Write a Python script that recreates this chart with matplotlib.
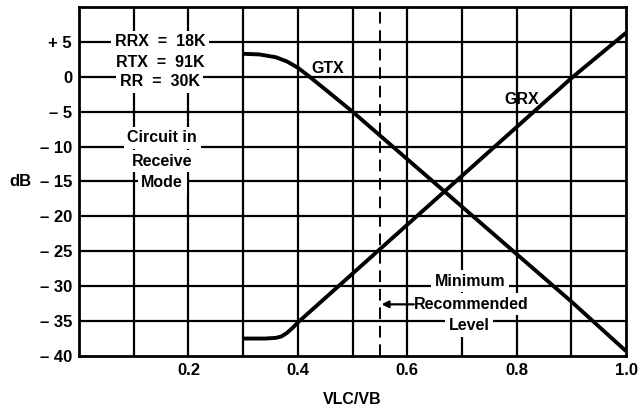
import matplotlib.pyplot as plt
import numpy as np

plt.rcParams['font.family'] = ['Liberation Sans', 'DejaVu Sans']

# GTX curve (dB vs VLC/VB)
gtx_x = [0.30, 0.33, 0.36, 0.38, 0.40, 0.42, 0.45, 0.50, 0.60, 0.70, 0.80, 0.90, 1.00]
gtx_y = [3.3, 3.2, 2.8, 2.2, 1.3, 0.1, -1.8, -5.0, -11.8, -18.6, -25.4, -32.2, -39.3]

# GRX curve
grx_x = [0.30, 0.34, 0.36, 0.37, 0.38, 0.39, 0.40, 0.50, 0.60, 0.70, 0.80, 0.90, 1.00]
grx_y = [-37.5, -37.5, -37.4, -37.2, -36.7, -36.0, -35.2, -28.2, -21.2, -14.2, -7.2, -0.2, 6.3]

x_ticks = [0.2, 0.4, 0.6, 0.8, 1.0]
x_ticklabels = ['0.2', '0.4', '0.6', '0.8', '1.0']
y_ticks = [5, 0, -5, -10, -15, -20, -25, -30, -35, -40]
y_ticklabels = ['+ 5', '0', '\u2013 5', '\u2013 10', '\u2013 15', '\u2013 20',
                '\u2013 25', '\u2013 30', '\u2013 35', '\u2013 40']

min_level = 0.55

fig = plt.figure(figsize=(6.43, 4.09), dpi=100)
ax = fig.add_axes([0.1229, 0.1296, 0.8507, 0.8533])

# grid
for gx in np.arange(0.1, 1.0, 0.1):
    ax.axvline(gx, color='black', lw=1.6, zorder=1)
for gy in range(-35, 10, 5):
    ax.axhline(gy, color='black', lw=1.6, zorder=1)

ax.axvline(min_level, color='black', lw=1.4, ls=(0, (6, 3.5)), zorder=2)

ax.plot(gtx_x, gtx_y, color='black', lw=2.8, zorder=3, solid_capstyle='butt')
ax.plot(grx_x, grx_y, color='black', lw=2.8, zorder=3, solid_capstyle='butt')

ax.set_xlim(0, 1.0)
ax.set_ylim(-40, 10)
ax.set_xticks(x_ticks)
ax.set_xticklabels(x_ticklabels)
ax.set_yticks(y_ticks)
ax.set_yticklabels(y_ticklabels)
ax.tick_params(length=0, labelsize=12, pad=5)
for lab in ax.get_xticklabels() + ax.get_yticklabels():
    lab.set_fontweight('bold')
for s in ax.spines.values():
    s.set_linewidth(2)

ax.set_xlabel('VLC/VB', fontsize=11.5, fontweight='bold', labelpad=10)
fig.text(0.014, 1 - 182 / 409, 'dB', fontsize=12, fontweight='bold', va='center', ha='left')

box = dict(facecolor='white', edgecolor='none', pad=2.5)
tkw = dict(fontsize=11.5, fontweight='bold', ha='center', va='center', zorder=4)

ax.text(0.148, 5.0, 'RRX  =  18K', bbox=box, **tkw)
ax.text(0.148, 2.1, 'RTX  =  91K', bbox=box, **tkw)
ax.text(0.148, -0.7, 'RR  =  30K', bbox=box, **tkw)

ax.text(0.152, -8.7, 'Circuit in', bbox=box, **tkw)
ax.text(0.152, -12.1, 'Receive', bbox=box, **tkw)
ax.text(0.152, -15.2, 'Mode', bbox=box, **tkw)

ax.text(0.455, 1.2, 'GTX', **tkw)
ax.text(0.81, -3.3, 'GRX', **tkw)

ax.text(0.715, -29.3, 'Minimum', bbox=box, **tkw)
ax.text(0.717, -32.6, 'Recommended', bbox=box, **tkw)
ax.text(0.713, -35.7, 'Level', bbox=box, **tkw)

ax.annotate('', xy=(0.553, -32.6), xytext=(0.612, -32.6),
            arrowprops=dict(arrowstyle='-|>', lw=1.6, color='black',
                            mutation_scale=10, shrinkA=0, shrinkB=0), zorder=5)

fig.savefig('out.png', dpi=100)
